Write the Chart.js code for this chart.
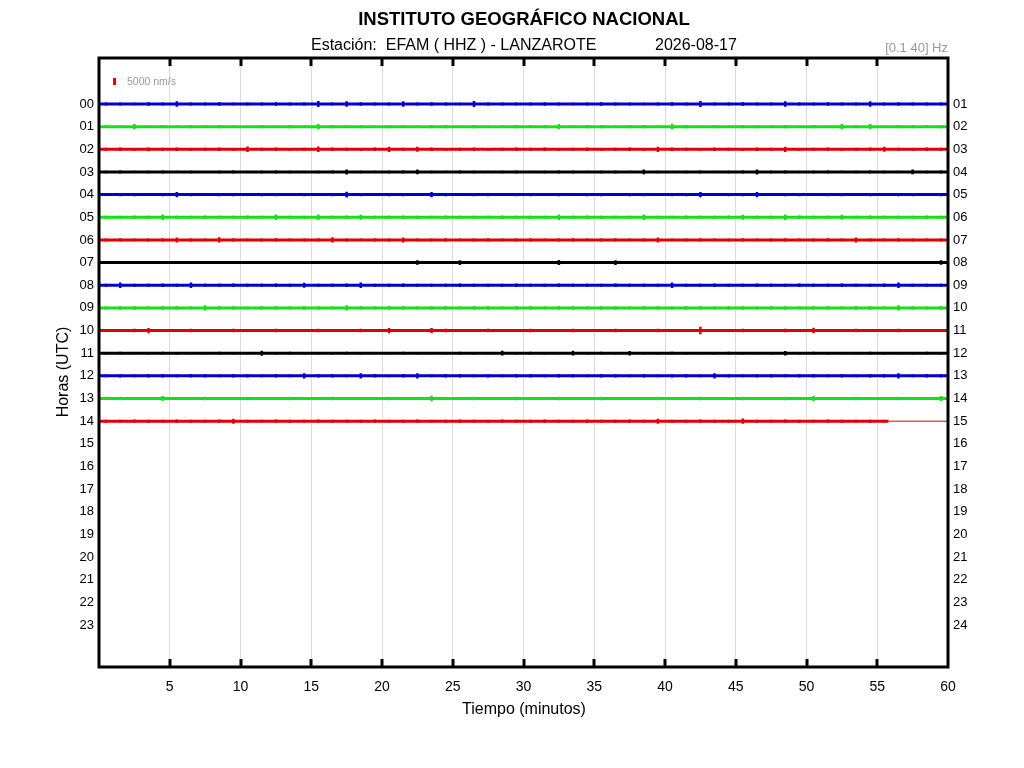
<!DOCTYPE html>
<html>
<head>
<meta charset="utf-8">
<title>EFAM HHZ helicorder</title>
<script src="https://cdn.jsdelivr.net/npm/chart.js@4.4.0/dist/chart.umd.min.js"></script>
<style>
  html, body { margin: 0; background: #fff; }
  #wrap { width: 1024px; height: 768px; }
</style>
</head>
<body>
<div id="wrap"><canvas id="heli" width="1024" height="768"></canvas></div>
<script>
// hour rows, tick labels
const hourLabels  = ['00','01','02','03','04','05','06','07','08','09','10','11','12','13','14','15','16','17','18','19','20','21','22','23'];
const rightLabels = ['01','02','03','04','05','06','07','08','09','10','11','12','13','14','15','16','17','18','19','20','21','22','23','24'];
const minuteTicks = [5, 10, 15, 20, 25, 30, 35, 40, 45, 50, 55, 60];

// peak amplitude per minute (nm/s)
const amp00 = [1000,1100,900,1200,1000,2000,1100,1000,1200,900, 1100,1000,1200,1000,1100,2100,1000,1900,1200,1000, 1100,2000,1000,1200,1100,900,2100,1000,1100,1000, 1000,1200,1100,900,1000,1200,1100,1000,900,1100, 1200,1000,2200,1100,1000,1200,1000,1100,2000,1000, 1100,1200,1000,1100,1900,1000,1200,1100,1000,1100];
const amp01 = [1000,1200,1900,1000,1100,900,1200,1000,1100,1000, 900,1100,1000,1200,1000,1900,1100,1000,1200,1000, 1100,1000,900,1100,1200,1000,1100,1000,900,1100, 1000,1100,1900,1000,1200,1100,1000,1100,1200,1000, 2000,1100,1000,1200,1000,1100,1200,1000,1100,1000, 1100,1000,1900,1100,1800,1000,1100,1200,1000,1100];
const amp02 = [1100,1200,1000,1300,1100,1200,1000,1100,1200,1000, 2000,1100,1200,1000,1100,2000,1200,1100,1000,1200, 1900,1100,1800,1200,1000,1100,1200,1000,1100,1200, 1100,1200,1000,1100,1200,1000,1100,1200,1000,1900, 1200,1100,1000,1200,1100,1000,1200,1100,1900,1000, 1100,1200,1000,1100,1200,1800,1100,1000,1200,1100];
const amp03 = [900,1000,800,900,1000,800,900,700,900,1000, 800,900,1000,900,800,900,1000,1800,900,800, 900,1000,1700,900,800,1000,900,800,900,1000, 800,900,1000,900,800,900,1000,800,1700,900, 800,900,1000,800,900,1000,1800,900,1000,800, 900,1000,800,900,1000,900,800,1700,900,1000];
const amp04 = [1000,1100,1200,1000,1100,1900,1200,1000,1100,1200, 1000,1100,1200,1000,1100,1000,1200,2000,1100,1000, 1100,1200,1000,1900,1100,1000,1200,1100,1000,1100, 1200,1000,1100,1000,1200,1100,1000,1100,1200,1000, 1100,1200,1900,1000,1100,1200,1800,1000,1100,1200, 1000,1100,1200,1000,1100,1000,1200,1100,1000,1100];
const amp05 = [1100,1000,1200,1100,1900,1000,1100,1200,1000,1100, 1200,1000,1900,1100,1000,2000,1100,1200,1800,1000, 1100,1200,1000,1100,1200,1000,1100,1000,1200,1100, 1000,1100,1900,1000,1200,1100,1000,1100,1900,1000, 1100,1200,1000,1100,1200,1800,1000,1100,1900,1200, 1000,1100,1800,1000,1200,1100,1000,1100,1200,1000];
const amp06 = [1100,1200,1000,1100,1200,1800,1100,1000,1900,1200, 1000,1100,1200,1000,1100,1200,1900,1100,1000,1200, 1100,1800,1000,1100,1200,1000,1100,1200,1000,1100, 1200,1000,1100,1200,1000,1100,1200,1000,1100,1800, 1000,1100,1200,1000,1100,1200,1000,1100,1200,1000, 1100,1200,1000,1800,1100,1000,1200,1100,1000,1100];
const amp07 = [900,800,1000,900,800,900,1000,900,800,900, 1000,900,800,900,1000,900,800,900,1000,900, 800,900,1600,900,1000,1700,900,800,900,1000, 900,800,1800,900,1000,900,1700,800,900,1000, 900,800,1000,900,800,900,1000,900,800,900, 1000,900,800,900,1000,900,800,900,1000,1600];
const amp08 = [1100,1900,1000,1100,1200,1000,1900,1100,1000,1200, 1100,1000,1200,1100,1800,1000,1100,1200,1900,1000, 1100,1200,1000,1100,1000,1200,1100,1000,1100,1200, 1000,1100,1200,1000,1100,1000,1200,1100,1000,1100, 1900,1000,1100,1200,1000,1100,1200,1000,1100,1200, 1000,1100,1200,1000,1100,1200,1900,1000,1100,1000];
const amp09 = [1000,1100,1200,1000,1100,1200,1000,1900,1100,1200, 1000,1100,1200,1000,1100,1200,1000,1900,1100,1000, 1200,1100,1000,1200,1100,1000,1100,1200,1000,1100, 1200,1000,1100,1200,1000,1100,1200,1000,1100,1200, 1000,1100,1200,1000,1100,1200,1000,1100,1200,1000, 1100,1200,1000,1100,1200,1000,1900,1100,1000,1200];
const amp10 = [1100,1000,1200,1900,1100,1000,1200,1100,1000,1200, 1100,1000,1200,1100,1000,1200,1100,1000,1200,1100, 1900,1000,1100,1800,1200,1000,1100,1200,1000,1100, 1200,1000,1100,1200,1000,1100,1200,1000,1100,1200, 1000,1100,2700,1100,1000,1200,1100,1000,1200,1100, 2000,1000,1100,1200,1000,1100,1200,1000,1100,1000];
const amp11 = [900,1000,800,900,1000,900,800,900,1000,900, 800,1800,900,1000,900,800,900,1000,900,800, 900,1000,900,800,900,1000,900,800,1700,900, 1000,900,800,1700,900,1000,900,1600,800,900, 1000,900,800,900,1000,900,800,900,1600,900, 1000,900,800,900,1000,900,800,900,1000,900];
const amp12 = [1000,1100,1000,1200,1100,1000,1100,1200,1000,1100, 1200,1000,1100,1000,1900,1100,1200,1000,1800,1100, 1000,1200,1900,1000,1100,1200,1000,1100,1000,1200, 1100,1000,1200,1100,1000,1100,1200,1000,1100,1000, 1200,1100,1000,1800,1100,1000,1200,1100,1000,1100, 1200,1000,1100,1000,1200,1100,1800,1000,1100,1200];
const amp13 = [1100,1200,1000,1100,1800,1100,1000,1200,1100,1000, 1200,1100,1000,1200,1100,1000,1200,1100,1000,1100, 1200,1000,1100,1900,1100,1000,1200,1100,1000,1200, 1100,1000,1200,1100,1000,1200,1100,1000,1100,1200, 1000,1100,1200,1000,1100,1200,1000,1100,1200,1000, 1900,1100,1000,1200,1100,1000,1200,1100,1000,1800];
const amp14 = [1100,1000,1200,1100,1000,1200,1100,1000,1200,1800, 1100,1000,1200,1100,1000,1200,1100,1000,1100,1200, 1000,1100,1200,1000,1100,1200,1000,1100,1200,1000, 1100,1200,1000,1100,1200,1000,1100,1200,1000,1800, 1100,1000,1200,1100,1000,1900,1100,1000,1200,1100, 1000,1200,1100,1000,1100,1000];

// minute where the recorded signal of each hour stops (noise ends, flat line after)
const traceEnds = [60,60,60,60,60,60,60,60,60,60,60,60,60,60,55.8];

const traces = [amp00, amp01, amp02, amp03, amp04, amp05, amp06, amp07, amp08, amp09, amp10, amp11, amp12, amp13, amp14];
const traceColors = ['#0000cc', '#16e016', '#e00000', '#000000'];
const NMS_PER_ROW = 16130;   // 5000 nm/s bar is ~0.31 of the row spacing
const FONT = '"Liberation Sans", Arial, sans-serif';

const datasets = [];
traces.forEach((amps, hour) => {
  const color = traceColors[hour % 4];
  const end = traceEnds[hour];
  // one vertical stroke per minute, peak to peak
  const strokes = [];
  amps.forEach((a, m) => {
    const x = Math.min(m + 0.5, end);
    strokes.push({ x, y: hour - a / NMS_PER_ROW }, { x, y: hour + a / NMS_PER_ROW }, { x, y: null });
  });
  datasets.push({ data: strokes, borderColor: color, borderWidth: 2.5, spanGaps: false, fill: false, pointRadius: 0 });
  // trace body
  datasets.push({ data: [{ x: 0, y: hour }, { x: end, y: hour }], borderColor: color, borderWidth: 3, fill: false, pointRadius: 0 });
  if (end < 60) {
    datasets.push({ data: [{ x: end, y: hour }, { x: 60, y: hour }], borderColor: color, borderWidth: 1, fill: false, pointRadius: 0 });
  }
});

// 5000 nm/s scale bar
const scaleBarRow = -0.99;
datasets.push({
  data: [{ x: 1.1, y: scaleBarRow - 2500 / NMS_PER_ROW }, { x: 1.1, y: scaleBarRow + 2500 / NMS_PER_ROW }],
  borderColor: '#e00000', borderWidth: 3, fill: false, pointRadius: 0
});

const framePlugin = {
  id: 'frame',
  afterDraw(chart) {
    const { ctx, chartArea: a, scales } = chart;
    ctx.save();
    // inward ticks
    ctx.strokeStyle = '#000';
    ctx.lineWidth = 3;
    minuteTicks.slice(0, -1).forEach(v => {
      const x = Math.round(scales.x.getPixelForValue(v));
      ctx.beginPath();
      ctx.moveTo(x, a.top); ctx.lineTo(x, a.top + 8);
      ctx.moveTo(x, a.bottom); ctx.lineTo(x, a.bottom - 8);
      ctx.stroke();
    });
    ctx.strokeRect(a.left, a.top, a.right - a.left, a.bottom - a.top);

    ctx.fillStyle = '#000';
    ctx.textBaseline = 'middle';
    ctx.textAlign = 'center';
    ctx.font = 'bold 18.5px ' + FONT;
    ctx.fillText('INSTITUTO GEOGRÁFICO NACIONAL', 524, 20);
    ctx.font = '16px ' + FONT;
    ctx.textAlign = 'left';
    ctx.fillText('Estación:  EFAM ( HHZ ) - LANZAROTE', 311, 46);
    ctx.fillText('2026-08-17', 655, 46);
    ctx.fillStyle = '#9a9a9a';
    ctx.font = '13px ' + FONT;
    ctx.textAlign = 'right';
    ctx.fillText('[0.1 40] Hz', 948, 48);
    ctx.textAlign = 'left';
    ctx.font = '10.5px ' + FONT;
    ctx.fillText('5000 nm/s', 127, 82);

    ctx.fillStyle = '#000';
    ctx.textAlign = 'center';
    ctx.font = '16px ' + FONT;
    ctx.fillText('Tiempo (minutos)', 524, 710);
    ctx.translate(64, 372);
    ctx.rotate(-Math.PI / 2);
    ctx.fillText('Horas (UTC)', 0, 0);
    ctx.restore();
  }
};

const hourAxis = (labels, pos, width) => ({
  type: 'linear',
  position: pos,
  reverse: true,
  min: -2.03,
  max: 24.85,
  afterBuildTicks: s => { s.ticks = labels.map((_, i) => ({ value: i })); },
  afterFit: s => { s.width = width; },
  ticks: {
    autoSkip: false,
    padding: 5,
    color: '#000',
    font: { family: FONT, size: 13 },
    callback: (v, i) => labels[i]
  },
  grid: { display: false, drawTicks: false },
  border: { display: false }
});

new Chart(document.getElementById('heli'), {
  type: 'line',
  data: { datasets },
  options: {
    responsive: false,
    animation: false,
    devicePixelRatio: 1,
    layout: { padding: { top: 58, left: 0, right: 0, bottom: 0 } },
    plugins: { legend: { display: false }, tooltip: { enabled: false } },
    scales: {
      x: {
        type: 'linear',
        min: 0,
        max: 60,
        afterBuildTicks: s => { s.ticks = minuteTicks.map(v => ({ value: v })); },
        afterFit: s => { s.height = 101; },
        ticks: { padding: 12, color: '#000', font: { family: FONT, size: 14 } },
        grid: { color: '#dcdcdc', lineWidth: 1, drawTicks: false },
        border: { display: false }
      },
      y: hourAxis(hourLabels, 'left', 99),
      y2: hourAxis(rightLabels, 'right', 76)
    }
  },
  plugins: [framePlugin]
});
</script>
</body>
</html>
